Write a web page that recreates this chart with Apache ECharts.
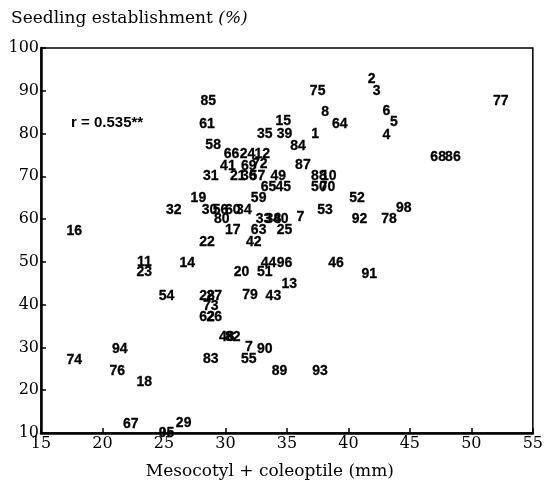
<!DOCTYPE html>
<html>
<head>
<meta charset="utf-8">
<script src="https://cdn.jsdelivr.net/npm/echarts@6/dist/echarts.min.js"></script>
<style>
  html, body { margin: 0; padding: 0; background: #fff; }
  #chart { width: 546px; height: 493px; }
</style>
</head>
<body>
<div id="chart"></div>
<script>
// genotype numbers
var ids = [
  '77', '2', '3', '75', '8', '64', '6', '5', '4', '1',
  '15', '35', '39', '84', '68', '86', '87', '88', '10', '50',
  '70', '49', '65', '45', '59', '52', '53', '98', '92', '78',
  '7', '33', '38', '40', '25', '63', '17', '80', '30', '56',
  '60', '34', '19', '32', '31', '21', '36', '57', '41', '69',
  '72', '66', '24', '12', '58', '61', '85', '16', '22', '42',
  '11', '23', '14', '20', '51', '44', '96', '46', '91', '13',
  '54', '28', '27', '79', '43', '73', '62', '26', '48', '82',
  '94', '74', '76', '18', '83', '7', '90', '55', '89', '93',
  '67', '29', '95'
];
// mesocotyl + coleoptile (mm)
var lengthMm = [
  52.4, 41.9, 42.3, 37.5, 38.1, 39.3, 43.1, 43.7, 43.1, 37.3,
  34.7, 33.2, 34.8, 35.9, 47.3, 48.5, 36.3, 37.6, 38.4, 37.6,
  38.3, 34.3, 33.5, 34.7, 32.7, 40.7, 38.1, 44.5, 40.9, 43.3,
  36.1, 33.1, 33.9, 34.5, 34.8, 32.7, 30.6, 29.7, 28.7, 29.6,
  30.6, 31.5, 27.8, 25.8, 28.8, 31.0, 31.9, 32.6, 30.2, 31.9,
  32.8, 30.5, 31.8, 33.0, 29.0, 28.5, 28.6, 17.7, 28.5, 32.3,
  23.4, 23.4, 26.9, 31.3, 33.2, 33.5, 34.8, 39.0, 41.7, 35.2,
  25.2, 28.5, 29.1, 32.0, 33.9, 28.8, 28.5, 29.1, 30.1, 30.6,
  21.4, 17.7, 21.2, 23.4, 28.8, 31.9, 33.2, 31.9, 34.4, 37.7,
  22.3, 26.6, 25.2
];
// seedling establishment (%)
var establishment = [
  87.5, 92.7, 89.9, 89.9, 84.9, 82.1, 85.2, 82.6, 79.6, 79.8,
  82.8, 79.8, 79.8, 77.0, 74.6, 74.6, 72.5, 70.0, 70.0, 67.4,
  67.4, 70.0, 67.4, 67.4, 65.0, 65.0, 62.2, 62.5, 59.9, 59.9,
  60.4, 59.9, 59.9, 59.9, 57.5, 57.5, 57.5, 59.9, 62.2, 62.2,
  62.2, 62.2, 65.0, 62.2, 70.0, 70.0, 70.0, 70.0, 72.3, 72.3,
  72.8, 75.1, 75.1, 75.1, 77.2, 82.1, 87.5, 57.1, 54.7, 54.7,
  50.0, 47.5, 49.8, 47.5, 47.5, 49.8, 49.8, 49.8, 47.2, 44.7,
  42.1, 42.1, 42.1, 42.3, 42.1, 39.7, 37.2, 37.2, 32.5, 32.5,
  29.7, 27.1, 24.5, 21.9, 27.3, 30.1, 29.7, 27.3, 24.5, 24.5,
  12.1, 12.3, 10.0
];

var points = ids.map(function (id, i) {
  return [lengthMm[i], establishment[i], id];
});

var serif = '"DejaVu Serif", "Liberation Serif", serif';
var sans = '"Liberation Sans", Arial, sans-serif';

var chart = echarts.init(document.getElementById('chart'));
chart.setOption({
  animation: false,
  title: [
    {
      text: 'Seedling establishment {i|(%)}',
      left: 6, top: 5,
      textStyle: {
        fontFamily: serif, fontSize: 17, fontWeight: 'normal', color: '#000',
        rich: { i: { fontFamily: serif, fontSize: 17, fontStyle: 'italic', color: '#000' } }
      }
    },
    {
      text: 'r = 0.535**',
      left: 66, top: 110,
      textStyle: { fontFamily: sans, fontSize: 15, fontWeight: 'bold', color: '#000' }
    }
  ],
  grid: {
    left: 41, right: 9, top: 48, bottom: 60,
    show: true, borderColor: '#000', borderWidth: 1.5
  },
  xAxis: {
    type: 'value', min: 15, max: 55, interval: 5,
    name: 'Mesocotyl + coleoptile (mm)',
    nameLocation: 'middle', nameGap: 30,
    nameTextStyle: { fontFamily: serif, fontSize: 17, color: '#000', padding: [0, 34, 0, 0] },
    axisLine: { lineStyle: { color: '#000', width: 2.5 } },
    axisTick: { inside: true, length: 5, lineStyle: { color: '#000', width: 1.5 } },
    axisLabel: { fontFamily: serif, fontSize: 16, color: '#000', margin: 3 },
    splitLine: { show: false }
  },
  yAxis: {
    type: 'value', min: 10, max: 100, interval: 10,
    axisLine: { lineStyle: { color: '#000', width: 2.5 } },
    axisTick: { inside: true, length: 5, lineStyle: { color: '#000', width: 1.5 } },
    axisLabel: { fontFamily: serif, fontSize: 16, color: '#000', margin: 2 },
    splitLine: { show: false }
  },
  series: [{
    type: 'scatter',
    data: points,
    symbolSize: 0.1,
    itemStyle: { color: 'rgba(0,0,0,0)', opacity: 1 },
    label: {
      show: true,
      position: 'inside',
      formatter: function (p) { return p.value[2]; },
      fontFamily: sans,
      fontSize: 14,
      fontWeight: 'bold',
      color: '#000',
      opacity: 1,
      textBorderColor: '#000',
      textBorderWidth: 0.3
    },
    emphasis: { disabled: true }
  }]
});
</script>
</body>
</html>
